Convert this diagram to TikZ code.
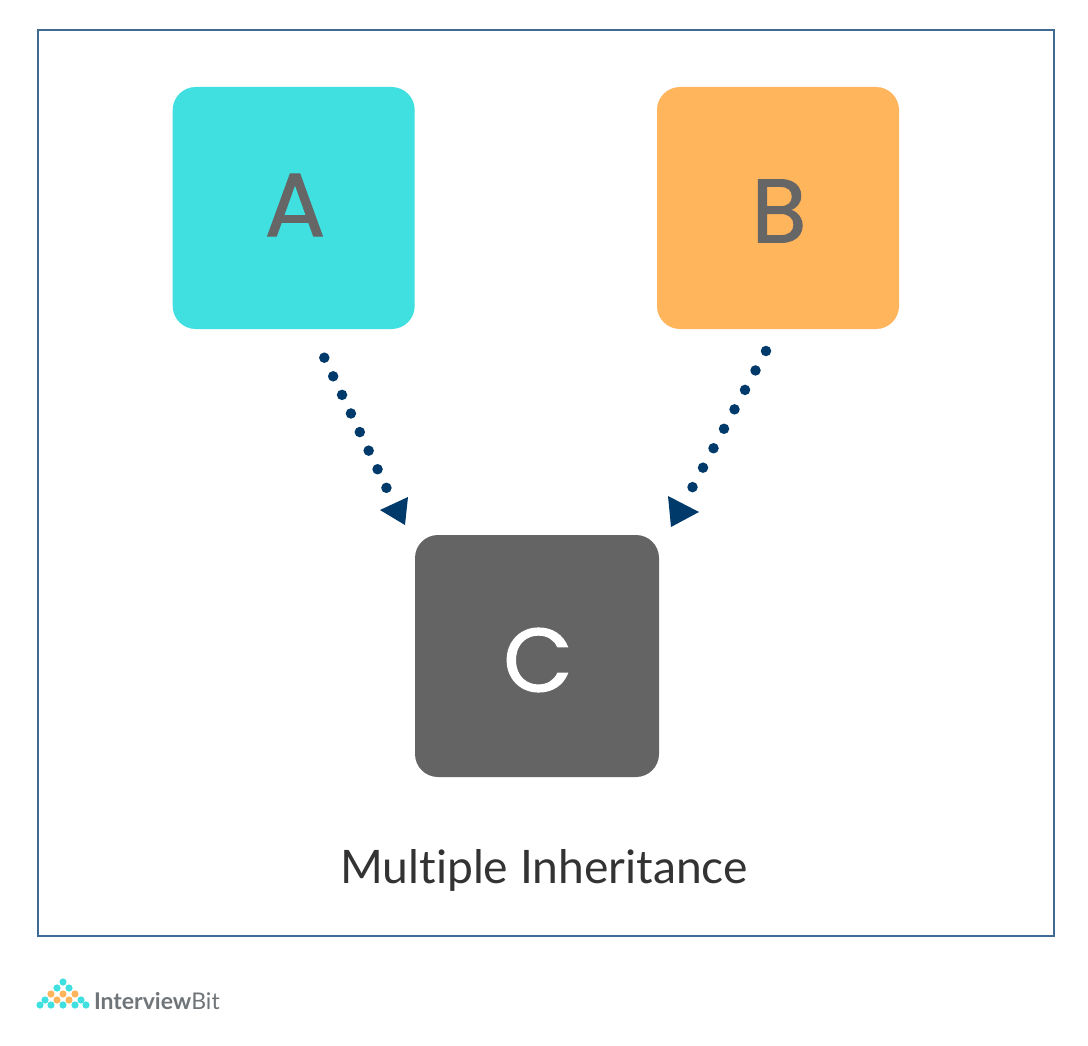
\documentclass[tikz,border=0pt]{standalone}
\usepackage{fontspec}
\setmainfont[Ligatures=CommonOff]{Lato}
\newfontfamily\letterfont[FakeBold=1.2]{Poppins}
\definecolor{framecol}{HTML}{3F6A94}
\definecolor{tealcol}{HTML}{40DFE0}
\definecolor{orangecol}{HTML}{FFB55C}
\definecolor{darkcol}{HTML}{646464}
\definecolor{navycol}{HTML}{003A6B}
\definecolor{lettercol}{HTML}{666666}
\definecolor{logocol}{HTML}{6E7478}
\tikzset{
  every node/.style={inner sep=0pt,outer sep=0pt},
  boxnode/.style={rounded corners=23pt,minimum width=242pt,minimum height=242pt},
  letternode/.style={font=\letterfont\fontsize{90}{90}\selectfont},
  dotline/.style={navycol,line width=10.5pt,line cap=round,dash pattern=on 0pt off #1},
  headfill/.style={fill=navycol,draw=none}
}
\begin{document}
\begin{tikzpicture}[x=1pt,y=-1pt]
\useasboundingbox (0,0) rectangle (1088,1046);
\fill[white] (0,0) rectangle (1088,1046);
\node[draw=framecol,line width=2.2pt,minimum width=1016pt,minimum height=906pt] (frame) at (546,483) {};
\node[boxnode,fill=tealcol] (a) at (293.7,208) {};
\node[boxnode,fill=orangecol] (b) at (778,208) {};
\node[boxnode,fill=darkcol,minimum width=244pt] (c) at (537,656) {};
\node[letternode,text=lettercol] (la) at (295,205) {A};
\node[letternode,text=lettercol] (lb) at (779,211) {B};
\node[letternode,text=white] (lc) at (538,660) {C};
\node[font=\fontsize{46.2}{46}\selectfont,text=black!80] (title) at (544,870) {Multiple Inheritance};
\coordinate (s1) at (324.3,357.7);
\coordinate (e1) at (387,489);
\coordinate (s2) at (766,351);
\coordinate (e2) at (691.5,489);
\draw[dotline=20.6pt] (s1) -- (e1);
\draw[dotline=22.1pt] (s2) -- (e2);
\fill[headfill] (408,497) -- (380,510) -- (405,525) -- cycle;
\fill[headfill] (668,496) -- (699,512) -- (671,527) -- cycle;
\foreach \x/\y/\c in {63/982/tealcol,
 57/988/tealcol,69/988/tealcol,
 51/994/orangecol,63/994/orangecol,75/994/orangecol,
 45/1000/tealcol,57/1000/orangecol,69/1000/orangecol,81/1000/tealcol,
 40/1005/tealcol,51/1005/tealcol,63/1005/tealcol,75/1005/tealcol,86/1005/tealcol}{
  \fill[\c] (\x,\y) circle[radius=3.6pt];
}
\node[anchor=west,font=\fontsize{23}{23}\selectfont\bfseries,text=logocol] (logo) at (94,1001) {Interview\mdseries Bit};
\end{tikzpicture}
\end{document}
